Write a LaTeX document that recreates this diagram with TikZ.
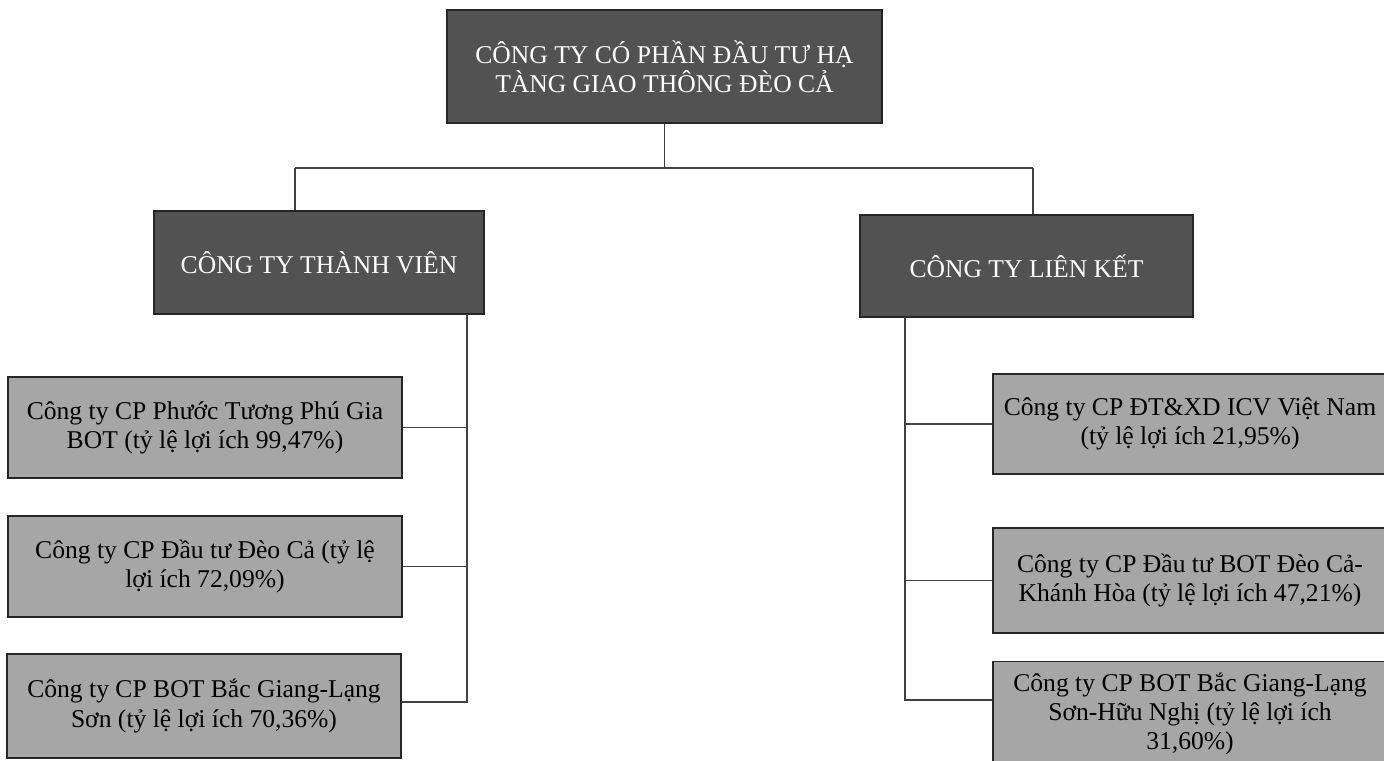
\documentclass[tikz,border=0pt]{standalone}
\usepackage{fontspec}
\setmainfont{Liberation Serif}
\begin{document}
\begin{tikzpicture}[x=0.5pt, y=-0.5pt,
		headbox/.style={draw=black!85, line width=0.8pt, fill=black!68, text=white, align=center, inner sep=0pt, font=\fontsize{12.8}{14.6}\selectfont},
		unitbox/.style={draw=black!85, line width=0.8pt, fill=black!35, align=center, inner sep=0pt, minimum width=197pt, font=\fontsize{12.8}{14.6}\selectfont},
		link/.style={draw=black!75, line width=0.6pt}]
		\useasboundingbox (0, 0) rectangle (1384, 760);

		\node[headbox, minimum width=217.5pt, minimum height=56.5pt] (top) at (664.5, 66.5) {CÔNG TY CÓ PHẦN ĐẦU TƯ HẠ\\TÀNG GIAO THÔNG ĐÈO CẢ};
		\node[headbox, minimum width=165pt, minimum height=51.5pt] (member) at (319, 262.5) {CÔNG TY THÀNH VIÊN};
		\node[headbox, minimum width=166.5pt, minimum height=51pt] (assoc) at (1026.5, 266) {CÔNG TY LIÊN KẾT};

		\node[unitbox, minimum height=50.5pt] (sub1) at (205, 427.5) {Công ty CP Phước Tương Phú Gia\\BOT (tỷ lệ lợi ích 99,47\%)};
		\node[unitbox, minimum height=50.5pt] (sub2) at (205, 566.5) {Công ty CP Đầu tư Đèo Cả (tỷ lệ\\lợi ích 72,09\%)};
		\node[unitbox, minimum height=52pt] (sub3) at (204, 706) {Công ty CP BOT Bắc Giang-Lạng\\Sơn (tỷ lệ lợi ích 70,36\%)};

		\node[unitbox, minimum height=50pt] (aff1) at (1190, 424) {Công ty CP ĐT\&XD ICV Việt Nam\\(tỷ lệ lợi ích 21,95\%)};
		\node[unitbox, minimum height=52.5pt] (aff2) at (1190, 580.5) {Công ty CP Đầu tư BOT Đèo Cả-\\Khánh Hòa (tỷ lệ lợi ích 47,21\%)};
		\node[unitbox, minimum height=52.5pt] (aff3) at (1190, 714) {Công ty CP BOT Bắc Giang-Lạng\\Sơn-Hữu Nghị (tỷ lệ lợi ích\\31,60\%)};

		\coordinate (split) at (664.5, 168);
		\coordinate (lefttop) at (295, 168);
		\coordinate (righttop) at (1033, 168);
		\coordinate (leftbus) at (467, 314);
		\coordinate (rightbus) at (905, 317);

		\draw[link] (top.south) -- (split);
		\draw[link] (lefttop) -- (righttop);
		\draw[link] (lefttop) -- (lefttop |- member.north);
		\draw[link] (righttop) -- (righttop |- assoc.north);

		\draw[link] (leftbus) |- (sub1.east);
		\draw[link] (leftbus) |- (sub2.east);
		\draw[link] (leftbus) |- ([yshift=2pt]sub3.east);

		\draw[link] (rightbus) |- (aff1.west);
		\draw[link] (rightbus) |- (aff2.west);
		\draw[link] (rightbus) |- ([yshift=7pt]aff3.west);
	\end{tikzpicture}
\end{document}
